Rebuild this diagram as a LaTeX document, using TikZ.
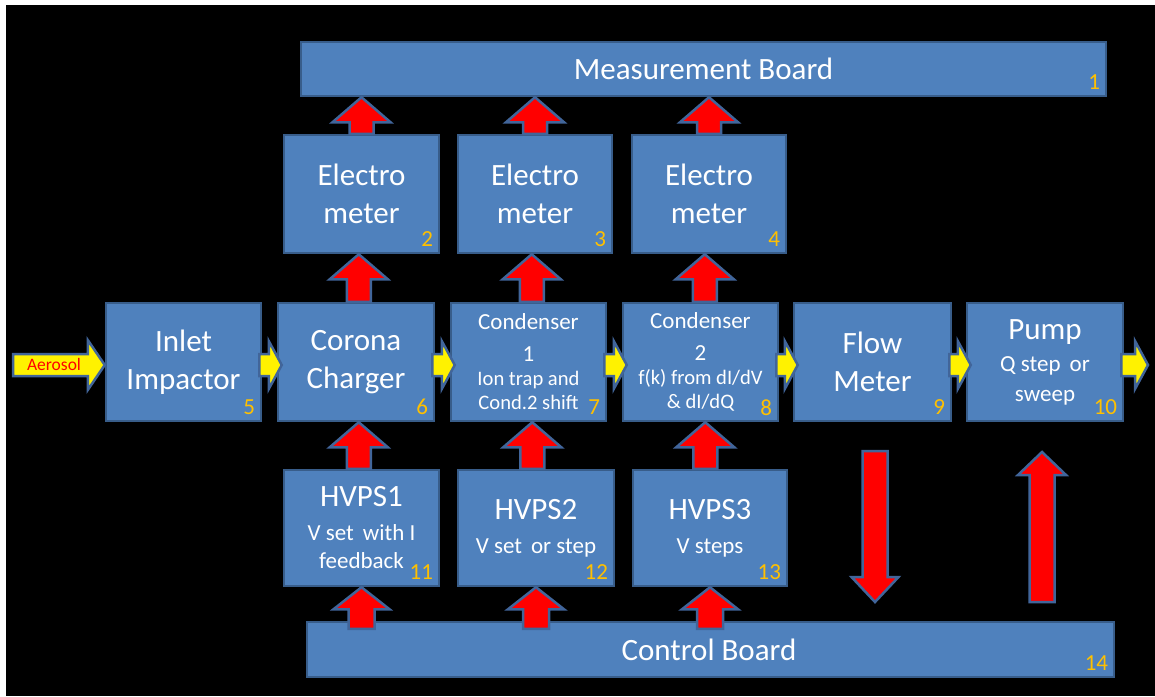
\documentclass[tikz,border=0pt]{standalone}
\usepackage{fontspec}
\setmainfont{Carlito}
\usetikzlibrary{calc}
\definecolor{boxfill}{HTML}{4F81BD}
\definecolor{boxline}{HTML}{385D8A}
\definecolor{arrline}{HTML}{41659A}
\definecolor{numcol}{HTML}{FFC000}
\tikzset{
  blk/.style={draw=boxline, fill=boxfill, line width=2.5pt, inner sep=0pt, text=white,
    align=center, font=\fontsize{31}{37.5}\selectfont},
  num/.style={text=numcol, font=\fontsize{23}{26}\selectfont, anchor=east, inner sep=0pt},
  redarr/.style={draw=arrline, fill=red, line width=2.5pt},
  yelarr/.style={draw=arrline, fill=yellow, line width=2.5pt},
}
% upward block arrow: style, tail, tip, half shaft, half head, head length
\newcommand\uparr[6]{%
  \draw[#1] let \p1=(#2), \p2=(#3), \p3=($(#2)!0.5!(#3)$) in
  (\x3-#4pt,\y1) -- (\x3-#4pt,\y2-#6pt) -- (\x3-#5pt,\y2-#6pt) -- (\x3,\y2)
  -- (\x3+#5pt,\y2-#6pt) -- (\x3+#4pt,\y2-#6pt) -- (\x3+#4pt,\y1) -- cycle;}
% downward block arrow
\newcommand\downarr[6]{%
  \draw[#1] let \p1=(#2), \p2=(#3), \p3=($(#2)!0.5!(#3)$) in
  (\x3-#4pt,\y1) -- (\x3-#4pt,\y2+#6pt) -- (\x3-#5pt,\y2+#6pt) -- (\x3,\y2)
  -- (\x3+#5pt,\y2+#6pt) -- (\x3+#4pt,\y2+#6pt) -- (\x3+#4pt,\y1) -- cycle;}
% rightward block arrow
\newcommand\rarr[6]{%
  \draw[#1] let \p1=(#2), \p2=(#3) in
  (\x1,\y1+#4pt) -- (\x2-#6pt,\y1+#4pt) -- (\x2-#6pt,\y1+#5pt) -- (\x2,\y1)
  -- (\x2-#6pt,\y1-#5pt) -- (\x2-#6pt,\y1-#4pt) -- (\x1,\y1-#4pt) -- cycle;}
\begin{document}
\begin{tikzpicture}[x=1pt,y=-1pt]
\useasboundingbox (0,0) rectangle (1155,696);
\fill[white] (0,0) rectangle (1155,696);
\fill[black] (6,5) rectangle (1155,696);

% boxes
\node[blk, minimum width=805, minimum height=54] (mb) at (703.5,69) {Measurement Board};
\node[blk, minimum width=155, minimum height=118] (e2) at (361.5,194) {Electro\\meter};
\node[blk, minimum width=154, minimum height=118] (e3) at (535,194) {Electro\\meter};
\node[blk, minimum width=154, minimum height=118] (e4) at (709,194) {Electro\\meter};

\node[blk, minimum width=155, minimum height=118] (b5) at (183.5,362) {Inlet\\Impactor};
\node[blk, minimum width=156, minimum height=118] (b6) at (356,362) {Corona\\Charger};
\node[blk, minimum width=155, minimum height=118, font=\fontsize{20.6}{24}\selectfont] (b7) at (528.5,362)
  {{\fontsize{23}{26}\selectfont Condenser}\\[8pt]{\fontsize{23}{26}\selectfont 1}\\Ion trap and\\Cond.2 shift};
\node[blk, minimum width=155, minimum height=118, font=\fontsize{20.6}{24}\selectfont] (b8) at (700.5,362)
  {{\fontsize{23}{26}\selectfont Condenser}\\[8pt]{\fontsize{23}{26}\selectfont 2}\\f(k) from dI/dV\\\& dI/dQ};
\node[blk, minimum width=157, minimum height=118] (b9) at (872.5,362) {Flow\\Meter};
\node[blk, minimum width=156, minimum height=118, font=\fontsize{23}{30}\selectfont] (b10) at (1045,362)
  {{\fontsize{31}{36}\selectfont Pump}\\[2pt]Q step\, or\\sweep};

\node[blk, minimum width=155, minimum height=116, font=\fontsize{23}{28}\selectfont] (h11) at (361.5,528)
  {{\fontsize{31}{36}\selectfont HVPS1}\\[6pt]V set\, with I\\feedback};
\node[blk, minimum width=156, minimum height=116, font=\fontsize{23}{28}\selectfont] (h12) at (536,528)
  {{\fontsize{31}{36}\selectfont HVPS2}\\[6pt]V set\, or step};
\node[blk, minimum width=154, minimum height=116, font=\fontsize{23}{28}\selectfont] (h13) at (710,528)
  {{\fontsize{31}{36}\selectfont HVPS3}\\[6pt]V steps};

\node[blk, minimum width=807, minimum height=55] (cb) at (710.5,649.5) {\hspace*{-3pt}Control Board};

% numbers
\foreach \b/\n in {mb/1,e2/2,e3/3,e4/4,b5/5,b6/6,b7/7,b8/8,b9/9,b10/10,h11/11,h12/12,h13/13,cb/14}
  \node[num] (n\n) at ($(\b.south east)+(-7,-15)$) {\n};

% red arrows: electrometers to measurement board
\uparr{redarr}{e2.north}{mb.south -| e2.north}{12}{29}{25}
\uparr{redarr}{e3.north}{mb.south -| e3.north}{12}{29}{25}
\uparr{redarr}{e4.north}{mb.south -| e4.north}{12}{29}{25}
% main row to electrometers
\uparr{redarr}{b6.north}{e2.south}{12}{29}{25}
\uparr{redarr}{b7.north}{e3.south}{12}{29}{25}
\uparr{redarr}{b8.north}{e4.south}{12}{29}{25}
% HVPS to main row
\uparr{redarr}{h11.north}{b6.south}{12}{29}{25}
\uparr{redarr}{h12.north}{b7.south}{12}{29}{25}
\uparr{redarr}{h13.north}{b8.south}{12}{29}{25}
% control board to HVPS
\uparr{redarr}{$(h11.south |- cb.north)+(0,8)$}{h11.south}{13}{28}{22}
\uparr{redarr}{$(h12.south |- cb.north)+(0,8)$}{h12.south}{13}{28}{22}
\uparr{redarr}{$(h13.south |- cb.north)+(0,8)$}{h13.south}{13}{28}{22}

% big free arrows
\coordinate (d1) at (875,451);
\coordinate (d2) at (875,602);
\coordinate (u1) at (1042,602);
\coordinate (u2) at (1042,452);
\downarr{redarr}{d1}{d2}{12.5}{23.5}{25}
\uparr{redarr}{u1}{u2}{12.5}{24}{23}

% yellow flow arrows
\coordinate (ain) at (13,365);
\coordinate (aout) at (1148,365);
\rarr{yelarr}{ain}{$(b5.west)+(0,3)$}{11}{25}{17}
\node[text=red, font=\fontsize{17.5}{20}\selectfont, inner sep=0pt] (aer) at (54,364) {Aerosol};
\rarr{yelarr}{$(b5.east)+(-3,3)$}{$(b6.west)+(5,3)$}{11}{24}{13}
\rarr{yelarr}{$(b6.east)+(-3,3)$}{$(b7.west)+(5,3)$}{11}{24}{13}
\rarr{yelarr}{$(b7.east)+(-3,3)$}{$(b8.west)+(5,3)$}{11}{24}{13}
\rarr{yelarr}{$(b8.east)+(-3,3)$}{$(b9.west)+(5,3)$}{11}{24}{13}
\rarr{yelarr}{$(b9.east)+(-3,3)$}{$(b10.west)+(5,3)$}{11}{24}{13}
\rarr{yelarr}{$(b10.east)+(-3,3)$}{aout}{11}{24}{13}
\end{tikzpicture}
\end{document}
